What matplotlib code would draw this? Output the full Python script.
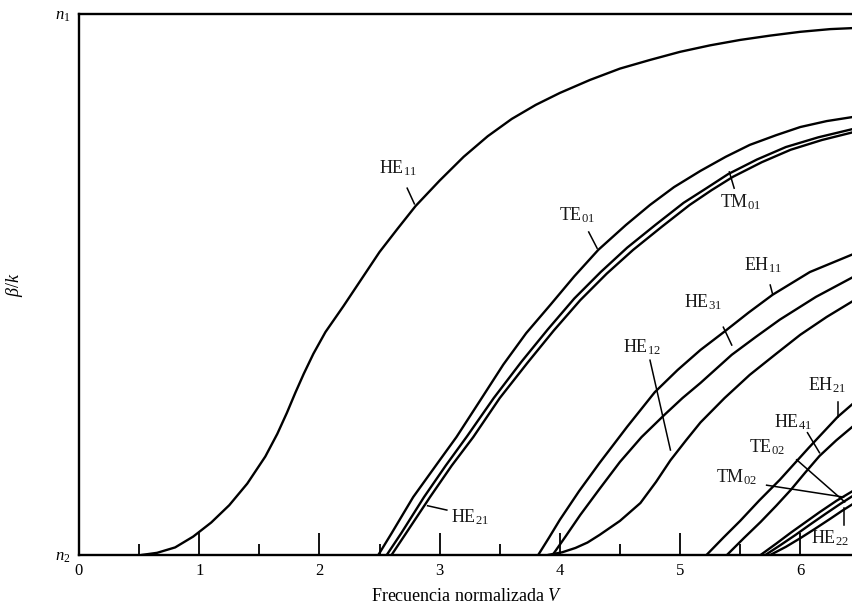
import matplotlib
matplotlib.use("Agg")
import matplotlib.pyplot as plt

plt.rcParams['font.family'] = ['Liberation Serif', 'DejaVu Serif']
plt.rcParams['mathtext.fontset'] = 'custom'
plt.rcParams['mathtext.rm'] = 'Liberation Serif'
plt.rcParams['mathtext.it'] = 'Liberation Serif:italic'

# curvas b = (beta/k - n2)/(n1 - n2), V normalizada
he11_v = [0.52, 0.65, 0.80, 0.95, 1.10, 1.25, 1.40, 1.55, 1.65, 1.73, 1.80, 1.87, 1.95, 2.05, 2.20, 2.35,
          2.50, 2.65, 2.80, 3.00, 3.20, 3.40, 3.60, 3.80, 4.00, 4.25, 4.50, 4.75, 5.00, 5.25, 5.50, 5.75,
          6.00, 6.25, 6.45]
he11_b = [0.0, 0.004, 0.014, 0.034, 0.060, 0.092, 0.132, 0.182, 0.224, 0.263, 0.300, 0.335, 0.372, 0.412,
          0.460, 0.510, 0.560, 0.603, 0.645, 0.692, 0.736, 0.774, 0.806, 0.832, 0.854, 0.878, 0.899, 0.915,
          0.930, 0.942, 0.952, 0.960, 0.967, 0.972, 0.974]

te01_v = [2.49, 2.60, 2.78, 3.00, 3.14, 3.35, 3.53, 3.72, 3.92, 4.12, 4.32, 4.55, 4.75, 4.95, 5.17, 5.38,
          5.58, 5.80, 6.00, 6.22, 6.45]
te01_b = [0.0, 0.040, 0.107, 0.175, 0.218, 0.290, 0.352, 0.410, 0.462, 0.515, 0.564, 0.610, 0.647, 0.680,
          0.710, 0.736, 0.758, 0.776, 0.791, 0.802, 0.810]

he21_v = [2.56, 2.68, 2.87, 3.05, 3.23, 3.45, 3.68, 3.90, 4.12, 4.34, 4.56, 4.80, 5.03, 5.22, 5.40, 5.64,
          5.88, 6.15, 6.45]
he21_b = [0.0, 0.040, 0.107, 0.165, 0.220, 0.290, 0.357, 0.417, 0.474, 0.523, 0.568, 0.611, 0.651, 0.678,
          0.704, 0.731, 0.754, 0.772, 0.788]

tm01_v = [2.60, 2.72, 2.92, 3.10, 3.28, 3.50, 3.73, 3.95, 4.17, 4.39, 4.61, 4.85, 5.08, 5.26, 5.44, 5.68,
          5.92, 6.18, 6.45]
tm01_b = [0.0, 0.040, 0.107, 0.165, 0.218, 0.290, 0.355, 0.415, 0.471, 0.520, 0.564, 0.607, 0.647, 0.674,
          0.699, 0.726, 0.749, 0.767, 0.782]

eh11_v = [3.82, 3.91, 4.00, 4.16, 4.33, 4.56, 4.79, 4.98, 5.17, 5.37, 5.57, 5.77, 6.08, 6.45]
eh11_b = [0.0, 0.032, 0.065, 0.118, 0.170, 0.237, 0.301, 0.342, 0.379, 0.413, 0.448, 0.481, 0.523, 0.557]

he31_v = [3.94, 4.05, 4.17, 4.33, 4.50, 4.68, 4.87, 5.02, 5.17, 5.43, 5.63, 5.83, 6.13, 6.45]
he31_b = [0.0, 0.035, 0.074, 0.122, 0.172, 0.218, 0.259, 0.290, 0.318, 0.370, 0.403, 0.435, 0.477, 0.515]

he12_v = [3.90, 4.02, 4.13, 4.23, 4.33, 4.50, 4.67, 4.80, 4.92, 5.05, 5.17, 5.37, 5.58, 5.80, 6.00, 6.22, 6.45]
he12_b = [0.0, 0.005, 0.013, 0.023, 0.037, 0.063, 0.096, 0.135, 0.175, 0.212, 0.245, 0.290, 0.333, 0.372,
          0.407, 0.440, 0.471]

eh21_v = [5.22, 5.36, 5.50, 5.66, 5.83, 6.07, 6.31, 6.45]
eh21_b = [0.0, 0.032, 0.063, 0.101, 0.139, 0.198, 0.255, 0.282]

he41_v = [5.39, 5.53, 5.67, 5.80, 5.92, 6.04, 6.16, 6.30, 6.45]
he41_b = [0.0, 0.031, 0.061, 0.091, 0.120, 0.152, 0.183, 0.212, 0.240]

te02_v = [5.67, 5.80, 5.92, 6.04, 6.16, 6.30, 6.45]
te02_b = [0.0, 0.021, 0.041, 0.060, 0.079, 0.100, 0.120]

tm02_v = [5.71, 5.84, 5.96, 6.08, 6.21, 6.33, 6.45]
tm02_b = [0.0, 0.019, 0.037, 0.056, 0.076, 0.094, 0.111]

he22_v = [5.75, 5.88, 6.00, 6.12, 6.25, 6.35, 6.45]
he22_b = [0.0, 0.015, 0.031, 0.048, 0.067, 0.082, 0.096]

curves = [(he11_v, he11_b), (te01_v, te01_b), (he21_v, he21_b), (tm01_v, tm01_b),
          (eh11_v, eh11_b), (he31_v, he31_b), (he12_v, he12_b), (eh21_v, eh21_b),
          (he41_v, he41_b), (te02_v, te02_b), (tm02_v, tm02_b), (he22_v, he22_b)]

# etiquetas: texto, posicion del texto, segmento de la flecha (V, b)
labels = [
    ("HE$_{11}$", (2.65, 0.715), (2.73, 0.678), (2.79, 0.649)),
    ("TE$_{01}$", (4.14, 0.628), (4.24, 0.597), (4.31, 0.567)),
    ("TM$_{01}$", (5.50, 0.652), (5.45, 0.678), (5.41, 0.708)),
    ("EH$_{11}$", (5.69, 0.536), (5.75, 0.499), (5.77, 0.482)),
    ("HE$_{31}$", (5.19, 0.468), (5.36, 0.421), (5.43, 0.388)),
    ("HE$_{12}$", (4.68, 0.384), (4.75, 0.360), (4.92, 0.194)),
    ("HE$_{21}$", (3.25, 0.070), (3.06, 0.083), (2.90, 0.091)),
    ("EH$_{21}$", (6.22, 0.314), (6.31, 0.283), (6.31, 0.255)),
    ("HE$_{41}$", (5.94, 0.246), (6.06, 0.226), (6.16, 0.189)),
    ("TE$_{02}$", (5.72, 0.200), (5.97, 0.176), (6.37, 0.098)),
    ("TM$_{02}$", (5.47, 0.144), (5.72, 0.129), (6.36, 0.107)),
    ("HE$_{22}$", (6.25, 0.031), (6.36, 0.055), (6.36, 0.087)),
]

fig = plt.figure(figsize=(8.53, 6.15), dpi=100)
ax = fig.add_axes([0.0926, 0.0976, 0.909, 0.8797])

for v, b in curves:
    ax.plot(v, b, color='black', lw=1.7, solid_capstyle='round', solid_joinstyle='round')

for txt, pos, p0, p1 in labels:
    ax.text(pos[0], pos[1], txt, fontsize=13, ha='center', va='center', color='#1a1a1a')
    ax.plot([p0[0], p1[0]], [p0[1], p1[1]], color='black', lw=1.1)

ax.set_xlim(0, 6.45)
ax.set_ylim(0, 1)
ax.spines['right'].set_visible(False)
for s in ['left', 'top', 'bottom']:
    ax.spines[s].set_linewidth(1.7)

ax.set_xticks(range(0, 7))
ax.set_xticks([0.5, 1.5, 2.5, 3.5, 4.5, 5.5], minor=True)
ax.tick_params(axis='x', which='major', direction='in', length=16, width=1.3, labelsize=12, pad=6)
ax.tick_params(axis='x', which='minor', direction='in', length=8, width=1.3)
ax.set_yticks([0, 1])
ax.set_yticklabels(['$n_2$', '$n_1$'])
ax.tick_params(axis='y', length=0, labelsize=12, pad=6)

ax.set_xlabel('Frecuencia normalizada $V$', fontsize=13, labelpad=6)
ax.set_ylabel(r'$\beta/k$', fontsize=13, labelpad=22)

fig.savefig('out.png', dpi=100)
